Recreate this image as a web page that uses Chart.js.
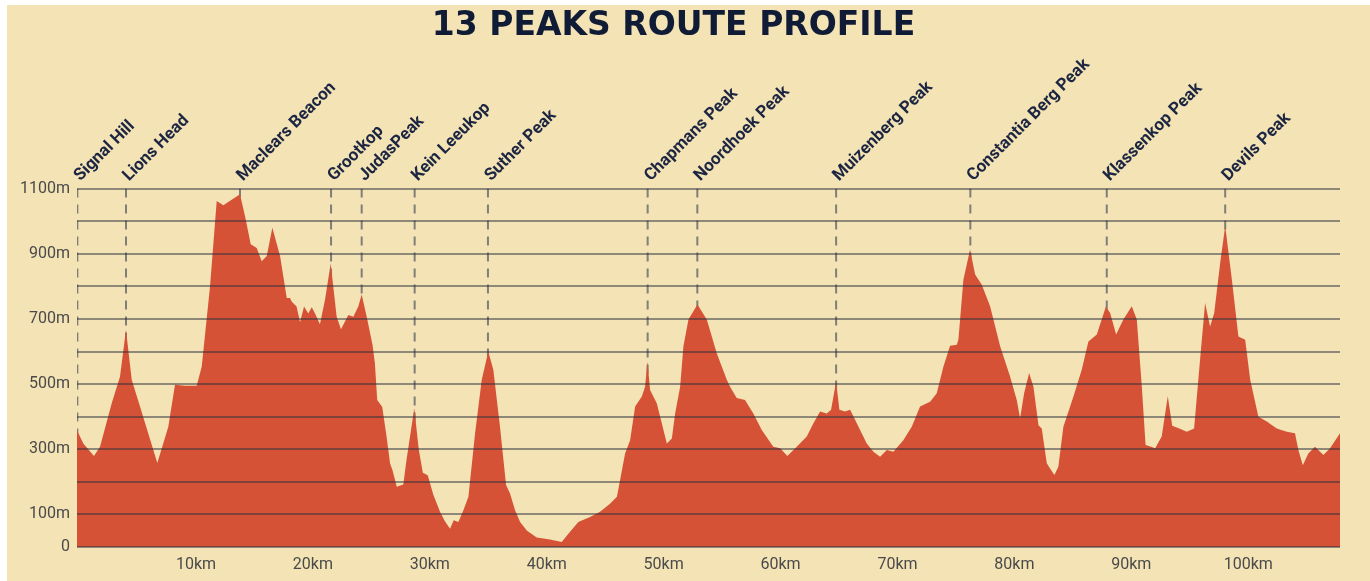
<!DOCTYPE html>
<html>
<head>
<meta charset="utf-8">
<script src="https://cdn.jsdelivr.net/npm/chart.js@4.4.0/dist/chart.umd.min.js"></script>
<style>
  html, body { margin: 0; padding: 0; background: #fff; }
</style>
</head>
<body>
<canvas id="profile" width="1370" height="581"></canvas>
<script>
// distance along the route (km) and elevation (m)
const distKm = [-0.18, 0.36, 1.27, 1.79, 2.79, 3.5, 4.01, 4.5, 5.21, 6.69, 7.63, 8.2, 9.06, 10.06, 10.49,
  11.2, 11.77, 12.34, 13.76, 14.19, 14.68, 15.19, 15.62, 16.05, 16.53, 17.19, 17.76, 18.04, 18.19, 18.6,
  18.9, 19.24, 19.6, 19.9, 20.18, 20.6, 21.03, 21.52, 22.03, 22.4, 23.03, 23.46, 23.88, 24.17, 24.6,
  25.1, 25.3, 25.5, 25.93, 26.3, 26.6, 26.8, 27.17, 27.73, 28.0, 28.67, 29.05, 29.4, 29.82, 30.3,
  30.87, 31.3, 31.73, 32.04, 32.44, 32.87, 33.3, 33.87, 34.44, 35.0, 35.43, 36.0, 36.52, 36.86, 37.29,
  37.72, 38.29, 39.14, 40.28, 41.28, 41.85, 42.7, 43.7, 44.56, 45.41, 46.0, 46.27, 46.7, 47.13, 47.56,
  48.13, 48.41, 48.61, 48.84, 49.41, 49.84, 50.27, 50.7, 50.98, 51.41, 51.69, 52.12, 52.89, 53.69, 54.54,
  55.4, 55.68, 56.25, 56.96, 57.67, 58.39, 59.38, 59.96, 60.58, 61.38, 62.24, 62.81, 63.38, 63.95, 64.32,
  64.75, 65.03, 65.52, 65.95, 66.52, 67.37, 67.94, 68.51, 69.09, 69.65, 70.5, 71.22, 71.93, 72.79, 73.36,
  73.93, 74.5, 75.07, 75.21, 75.64, 76.21, 76.64, 77.21, 77.92, 78.78, 79.63, 80.2, 80.49, 80.83, 81.26,
  81.63, 82.06, 82.34, 82.77, 83.05, 83.42, 83.76, 84.19, 85.05, 85.76, 86.33, 87.05, 87.82, 88.19, 88.7,
  89.32, 90.04, 90.47, 90.9, 91.22, 91.7, 92.04, 92.6, 93.12, 93.5, 94.1, 94.75, 95.37, 95.83, 96.31,
  96.74, 97.09, 97.6, 98.03, 98.6, 99.16, 99.74, 100.17, 100.87, 101.59, 102.44, 103.3, 104.0, 104.29, 104.67,
  105.14, 105.71, 106.43, 107.0, 107.85];
const elevM = [358, 318, 279, 308, 441, 523, 667, 513, 431, 258, 369, 498, 495, 495, 554,
  800, 1062, 1049, 1083, 1016, 929, 918, 877, 893, 980, 893, 764, 764, 753, 738,
  690, 738, 717, 736, 717, 684, 758, 870, 707, 668, 712, 707, 738, 775, 707,
  620, 564, 451, 430, 338, 256, 236, 185, 192, 266, 426, 300, 228, 220, 160,
  108, 78, 56, 82, 77, 113, 154, 349, 513, 600, 544, 369, 190, 164, 113,
  77, 51, 29, 23, 15, 41, 77, 92, 108, 133, 154, 205, 287, 328, 431,
  462, 492, 569, 482, 441, 380, 318, 333, 410, 492, 616, 698, 744, 698, 595,
  513, 492, 457, 451, 410, 359, 308, 303, 279, 308, 339, 380, 416, 410, 421,
  508, 421, 416, 421, 380, 318, 292, 277, 298, 292, 328, 369, 431, 446, 472,
  554, 618, 621, 636, 821, 913, 836, 805, 739, 616, 523, 451, 395, 472, 534,
  492, 374, 364, 257, 241, 221, 246, 369, 462, 544, 631, 652, 737, 718, 652,
  698, 739, 698, 492, 313, 308, 303, 339, 463, 372, 364, 354, 364, 554, 749,
  677, 718, 872, 985, 821, 646, 636, 513, 400, 385, 364, 354, 349, 298, 251,
  287, 308, 282, 303, 349];

const peakNames = ['Signal Hill', 'Lions Head', 'Maclears Beacon', 'Grootkop', 'JudasPeak', 'Kein Leeukop',
  'Suther Peak', 'Chapmans Peak', 'Noordhoek Peak', 'Muizenberg Peak', 'Constantia Berg Peak',
  'Klassenkop Peak', 'Devils Peak'];
const peakKm = [-0.15, 4.01, 13.76, 21.55, 24.17, 28.7, 34.97, 48.63, 52.88, 64.75, 76.23, 87.9, 98.03];

const xTicks = [10, 20, 30, 40, 50, 60, 70, 80, 90, 100];
const yMax = 1100;

const bg = {
  id: 'bg',
  beforeDraw(chart) {
    const c = chart.ctx;
    c.save();
    c.fillStyle = '#ffffff';
    c.fillRect(0, 0, chart.width, chart.height);
    c.fillStyle = '#f3e3b5';
    c.fillRect(7, 5, chart.width - 7, chart.height - 5);
    c.restore();
  }
};

const peakLabels = {
  id: 'peakLabels',
  afterDraw(chart) {
    const c = chart.ctx, xs = chart.scales.x, ys = chart.scales.y;
    c.save();
    c.font = 'bold 17px Roboto, "DejaVu Sans", sans-serif';
    c.fillStyle = '#1c2541';
    c.textAlign = 'left';
    c.textBaseline = 'middle';
    peakNames.forEach((name, i) => {
      c.save();
      c.translate(xs.getPixelForValue(peakKm[i]), ys.getPixelForValue(yMax) - 10);
      c.rotate(-Math.PI / 4);
      c.fillText(name, 0, 0);
      c.restore();
    });
    c.restore();
  }
};

const datasets = [{
  data: distKm.map((d, i) => ({ x: d, y: elevM[i] })),
  backgroundColor: '#d65237',
  borderWidth: 0,
  pointRadius: 0,
  fill: 'origin',
  tension: 0
}];
// dashed markers, drawn under the profile so it hides their lower part
peakKm.forEach(k => {
  datasets.push({
    data: [{ x: k, y: yMax }, { x: k, y: 0 }],
    borderColor: 'rgba(80,82,95,0.7)',
    borderWidth: 2,
    borderDash: [9, 7],
    pointRadius: 0,
    fill: false
  });
});

new Chart(document.getElementById('profile'), {
  type: 'line',
  data: { datasets: datasets },
  options: {
    responsive: false,
    animation: false,
    layout: { padding: { top: 7, left: 7, right: 30, bottom: 0 } },
    plugins: {
      legend: { display: false },
      tooltip: { enabled: false },
      title: {
        display: true,
        text: '13 PEAKS ROUTE PROFILE',
        color: '#101b35',
        font: { family: '"DejaVu Sans"', size: 33, weight: 'bold' },
        padding: { top: 0, bottom: 142 }
      }
    },
    scales: {
      x: {
        type: 'linear',
        min: -0.18,
        max: 107.85,
        grid: { display: false, drawTicks: false },
        border: { display: false },
        afterBuildTicks: s => { s.ticks = xTicks.map(v => ({ value: v })); },
        afterFit: s => { s.height = 34; },
        ticks: {
          autoSkip: false,
          maxRotation: 0,
          padding: 8,
          color: '#4a4a4a',
          font: { family: 'Roboto', size: 16 },
          callback: v => v + 'km'
        }
      },
      y: {
        min: 0,
        max: yMax,
        grid: { color: 'rgba(40,45,60,0.5)', lineWidth: 2, drawTicks: false, z: 1 },
        border: { display: false },
        afterFit: s => { s.width = 70; },
        ticks: {
          stepSize: 100,
          autoSkip: false,
          padding: 7,
          color: '#4a4a4a',
          font: { family: 'Roboto', size: 16 },
          callback: v => v === 0 ? '0' : (v % 200 === 100 ? v + 'm' : '')
        }
      }
    }
  },
  plugins: [bg, peakLabels]
});
</script>
</body>
</html>
